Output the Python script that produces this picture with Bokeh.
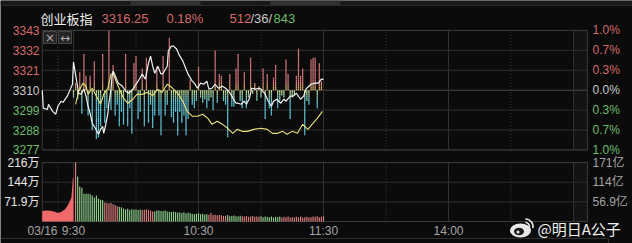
from bokeh.plotting import figure
from bokeh.models import Range1d, ColumnDataSource
from bokeh.core.properties import value
from bokeh.embed import file_html
from bokeh.resources import INLINE

# ---------------- data ----------------
index_name = "创业板指"
last_price = "3316.25"
change_pct = "0.18%"
breadth = ["512", "/36/", "843"]
trade_date = "03/16"
prev_close = 3310.3

pct_ticks = [1.0, 0.6667, 0.3333, 0.0, -0.3333, -0.6667, -1.0]
price_tick_labels = ["3343", "3332", "3321", "3310", "3299", "3288", "3277"]
pct_tick_labels = ["1.0%", "0.7%", "0.3%", "0.0%", "0.3%", "0.7%", "1.0%"]
vol_ticks = [215.7, 143.8, 71.9]
vol_tick_labels = ["216万", "144万", "71.9万"]
amount_tick_labels = ["171亿", "114亿", "56.9亿"]
time_ticks = [0, 60, 120, 180]
time_tick_labels = ["9:30", "10:30", "11:30", "14:00"]
solid_grid_minutes = [0, 60, 120, 180, 240]
dotted_grid_minutes = [-7.5, 30, 90, 150, 210]

# index line (minutes from 9:30, pre-market negative)
idx_t = [-15, -14.5, -12.5, -12, -10, -8.5, -7.5, -6, -5, -3, -1.5, -0.5,
         0, 1.5, 2.5, 3.5, 5, 6, 7, 8, 9, 10.5, 12, 13, 14, 14.5, 15.5, 16.5, 17, 18,
         18.5, 19, 20.5, 21.5, 23.5, 25, 26.5, 28.5, 30, 31, 33, 34.5, 36, 37, 38, 39,
         40.5, 41, 42, 43, 45, 45.5, 47, 48, 49.5, 50.5, 52.5, 54, 55, 57, 58, 59.5,
         61, 62.5, 64, 65, 66.5, 68, 69.5, 71.5, 73, 74.5, 76, 78, 79, 80.5, 82, 83,
         84.5, 85.5, 87.5, 89, 90, 92, 93.5, 95, 96, 97.5, 99.5, 101, 102, 104, 105.5,
         107, 109, 110.5, 111.5, 113, 114, 116, 117.5, 119, 120]
idx_price = [3310.3, 3300.3, 3299.7, 3302.5, 3298.6, 3297.0, 3301.4, 3304.2, 3303.6, 3307.0, 3310.9, 3313.6,
             3325.9, 3315.3, 3308.6, 3308.1, 3310.9, 3307.0, 3301.4, 3297.5, 3292.0, 3289.2, 3285.9, 3288.6, 3290.3, 3286.4, 3291.4, 3297.5, 3303.1, 3310.9,
             3318.1, 3320.9, 3317.0, 3314.2, 3312.5, 3309.7, 3308.6, 3310.9, 3313.6, 3315.3, 3319.2, 3316.4, 3325.3, 3329.2, 3323.6, 3319.7,
             3323.6, 3322.0, 3319.2, 3319.7, 3323.6, 3332.0, 3334.7, 3334.7, 3333.1, 3330.3, 3326.4, 3322.0, 3319.2, 3315.3, 3314.2, 3311.4,
             3314.2, 3313.6, 3315.3, 3310.9, 3311.4, 3313.6, 3311.4, 3312.5, 3311.4, 3309.7, 3307.0, 3303.1, 3303.1, 3302.5, 3304.2, 3302.5,
             3305.9, 3311.4, 3310.9, 3311.4, 3310.9, 3308.1, 3304.2, 3301.4, 3304.2, 3305.3, 3303.1, 3305.3, 3304.2, 3307.0, 3307.0,
             3308.6, 3305.3, 3307.0, 3310.9, 3312.5, 3313.6, 3314.2, 3314.2, 3316.4, 3316.25]

# unweighted (yellow) line
avg_t = [1, 2.5, 4.5, 6, 7, 9, 11.5, 13, 14.5, 16.5, 18, 19, 21, 22.5, 24, 26, 28.5, 30.5, 33, 35.5,
         38, 40.5, 42.5, 45, 46.5, 48, 50, 52.5, 54.5, 57, 59.5, 62, 64.5, 66.5, 69, 71.5, 74, 76.5,
         78.5, 81, 83.5, 86.5, 90, 93, 95.5, 98, 100.5, 102.5, 105, 107.5, 110, 112.5, 114.5, 117, 119.5]
avg_price = [3302.5, 3309.7, 3314.2, 3312.5, 3308.1, 3311.4, 3305.9, 3302.5, 3308.1, 3311.4, 3319.2, 3319.7,
             3313.6, 3309.7, 3305.9, 3303.1, 3305.3, 3308.1, 3308.0, 3309.1, 3307.4, 3310.7, 3309.1, 3313.6,
             3312.5, 3310.9, 3308.6, 3304.2, 3298.6, 3295.9, 3295.9, 3297.0, 3294.7, 3291.4, 3293.1, 3291.4,
             3289.2, 3286.4, 3288.6, 3287.5, 3287.5, 3288.6, 3289.2, 3288.6, 3286.4, 3286.4, 3287.5, 3285.9,
             3287.5, 3286.4, 3291.4, 3288.6, 3291.4, 3294.7, 3298.6]

# red / cyan strength bars, one per minute from 9:30 (index points above / below prev close)
strength = [-4, 4, -5, 10, -13, 20, 8, -14, 8, -22,
            16, -27, -26, -20, 20, -18, -10, 33, -11, 14,
            -14, -8, -20, -12, -19, 20, -20, -10, -24, 15,
            19, -16, -12, 12, -20, 18, -18, -8, -21, -14,
            13, -14, -25, 19, -14, -8, 29, -15, -18, -12,
            -25, -12, -18, -14, -25, -16, 6, -8, -10, -6,
            13, -4, -7, -5, -10, -6, -4, -11, 22, -7,
            9, 8, -6, -8, -26, 9, -9, -9, 12, 20,
            -6, -10, 10, -10, -4, 18, -2, 4, -6, 2,
            -4, 12, -16, 9, -10, -14, 7, 14, -10, -6,
            -3, -4, 17, 9, -16, -4, -3, 8, 23, 8,
            12, -25, -6, -8, 17, 18, 18, -10, 15, 5]

# volume per minute (万手), 9:31 .. 11:30
vol = [216, 165, 128, 124, 102, 102, 102, 100, 95, 88,
       95, 84, 80, 78, 70, 68, 66, 68, 63, 60,
       56, 54, 52, 48, 44, 47, 42, 45, 44, 44,
       42, 44, 42, 43, 45, 42, 40, 37, 37, 40,
       40, 38, 38, 40, 37, 36, 35, 36, 34, 33,
       33, 31, 34, 30, 32, 30, 28, 27, 28, 30,
       27, 28, 26, 27, 25, 31, 24, 25, 23, 24,
       23, 20, 21, 24, 19, 20, 22, 19, 18, 21,
       19, 18, 20, 17, 18, 20, 17, 18, 17, 19,
       16, 18, 17, 16, 18, 15, 17, 16, 18, 15,
       17, 16, 18, 15, 16, 15, 17, 16, 18, 15,
       16, 17, 15, 16, 18, 17, 19, 16, 17, 18]
vol_dir = ("rggggggggg" "ggggrrrrrr" "rggggggggg" "ggrrrrrrgg" "gggggggggg" "gggggggggg"
           "ggggrrrrrr" "rrrggggggg" "rrrrrrrrrg" "gggggggggr" "rrrrrrrrrr" "rrrrrrrrrr")

# call-auction volume (9:15-9:30)
auction_t = [-15, -13, -11, -9, -7.5, -6, -4, -2.5, -1, -0.3, 0]
auction_vol = [38, 40, 39, 36, 31, 35, 45, 62, 88, 160, 160]

# ---------------- style ----------------
BG = "#0b0b0b"
GRID = "#2f2f2f"
FRAME = "#3a3a3a"
RED_T = "#d46a6a"
GREEN_T = "#6dbb6d"
GREY_T = "#c8c8c8"
AXIS_T = "#a4a4a4"
FONT = "Liberation Sans, Noto Sans CJK SC"
CJK = "Noto Sans CJK SC"
PANEL_L, PANEL_R = -15, 246.7

p = figure(width=632, height=243, x_range=Range1d(-35.04, 268.32),
           y_range=Range1d(3225.37, 3360.0), x_axis_type=None, y_axis_type=None,
           toolbar_location=None, output_backend="svg", min_border=0,
           background_fill_color=BG, border_fill_color=BG, outline_line_color=None)
p.extra_x_ranges = {"px": Range1d(0, 632)}
p.extra_y_ranges = {"vol": Range1d(-80.54, 809.1), "py": Range1d(243, 0)}

price_ticks = [prev_close * (1 + q / 100.0) for q in pct_ticks]
p_hi, p_lo = max(price_ticks), min(price_ticks)
v_hi = max(vol_ticks)

# top strip
p.quad(left=[0], right=[632], bottom=[4.5], top=[0], fill_color="#181818", line_color=None,
       x_range_name="px", y_range_name="py")
p.quad(left=[130, 270], right=[200, 340], bottom=[4.5, 4.5], top=[0, 0], fill_color="#303030",
       line_color=None, x_range_name="px", y_range_name="py")
p.segment(x0=[0], x1=[632], y0=[5], y1=[5], line_color="#2a2a2a", x_range_name="px", y_range_name="py")
p.segment(x0=[0], x1=[608], y0=[238], y1=[238], line_color="#2e2e2e", x_range_name="px", y_range_name="py")
p.segment(x0=[608], x1=[608], y0=[238], y1=[243], line_color="#2e2e2e", x_range_name="px", y_range_name="py")

# right margin shading inside panels
p.quad(left=[240], right=[PANEL_R], bottom=[p_lo], top=[p_hi], fill_color="#131313", line_color=None)
p.quad(left=[240], right=[PANEL_R], bottom=[0], top=[v_hi], fill_color="#131313", line_color=None,
       y_range_name="vol")

# horizontal grid
h_cols = [("#4a4a4a" if q == 0 else GRID) for q in pct_ticks]
p.segment(x0=[PANEL_L] * 7, x1=[PANEL_R] * 7, y0=price_ticks, y1=price_ticks, line_color=h_cols, line_width=1)
p.segment(x0=[PANEL_L] * 3, x1=[PANEL_R] * 3, y0=vol_ticks, y1=vol_ticks, line_color=GRID,
          y_range_name="vol")
# vertical grid
n = len(solid_grid_minutes)
p.segment(x0=solid_grid_minutes, x1=solid_grid_minutes, y0=[p_lo] * n, y1=[p_hi] * n, line_color=GRID)
p.segment(x0=solid_grid_minutes, x1=solid_grid_minutes, y0=[0] * n, y1=[v_hi] * n, line_color=GRID,
          y_range_name="vol")
m = len(dotted_grid_minutes)
p.segment(x0=dotted_grid_minutes, x1=dotted_grid_minutes, y0=[p_lo] * m, y1=[p_hi] * m,
          line_color="#3a3a3a", line_dash="1 2")
p.segment(x0=dotted_grid_minutes, x1=dotted_grid_minutes, y0=[0] * m, y1=[v_hi] * m,
          line_color="#3a3a3a", line_dash="1 2", y_range_name="vol")
# frames
p.quad(left=[PANEL_L], right=[PANEL_R], bottom=[p_lo], top=[p_hi], fill_color=None, line_color=FRAME)
p.quad(left=[PANEL_L], right=[PANEL_R], bottom=[0], top=[v_hi], fill_color=None, line_color=FRAME,
       y_range_name="vol")


# strength bars with a vertical colour fade
def mix(c1, c2, t):
    a = [int(c1[i:i + 2], 16) for i in (1, 3, 5)]
    b = [int(c2[i:i + 2], 16) for i in (1, 3, 5)]
    return "#%02x%02x%02x" % tuple(int(round(a[k] + (b[k] - a[k]) * t)) for k in range(3))


UP_LO, UP_HI = "#e2c06c", "#d7767c"
DN_LO, DN_HI = "#cde08c", "#62c6da"
seg = dict(left=[], right=[], bottom=[], top=[], color=[])
half = 0.3
for i, s in enumerate(strength):
    mag = abs(s)
    k = 0.0
    while k < mag:
        hi = min(k + 1.0, mag)
        mid = (k + hi) / 2.0
        if s > 0:
            c = mix(UP_LO, UP_HI, min(mid / 5.0, 1.0))
            b, t = prev_close + k, prev_close + hi
        else:
            c = mix(DN_LO, DN_HI, min(mid / 6.5, 1.0))
            b, t = prev_close - hi, prev_close - k
        seg["left"].append(i - half)
        seg["right"].append(i + half)
        seg["bottom"].append(b)
        seg["top"].append(t)
        seg["color"].append(c)
        k = hi
p.quad(left="left", right="right", bottom="bottom", top="top", fill_color="color",
       line_color=None, source=ColumnDataSource(seg))

# lines
p.line(avg_t, avg_price, line_color="#e8e27c", line_width=1.1)
p.line(idx_t, idx_price, line_color="#f2f2f2", line_width=1.2)

# volume
p.varea(x=auction_t, y1=[0] * len(auction_t), y2=auction_vol, fill_color="#f06a6a",
        y_range_name="vol")
vol_t = list(range(1, len(vol) + 1))
vol_col = [("#e07e7e" if d == "r" else "#8fd08f") for d in vol_dir]
p.vbar(x=vol_t, width=0.55, bottom=0, top=vol, fill_color=vol_col, line_color=None,
       y_range_name="vol")


def txt(x, y, texts, colors, size, align="left", xr="default", yr="default", font=FONT):
    src = ColumnDataSource(dict(x=x, y=y, text=texts, color=colors))
    p.text(x="x", y="y", text="text", text_color="color", source=src,
           text_font=value(font), text_font_size=value(size), text_align=align,
           text_baseline="middle", x_range_name=xr, y_range_name=yr)


# price tick labels
lcol = [RED_T if q > 0 else (GREY_T if q == 0 else GREEN_T) for q in pct_ticks]
txt([39] * 7, price_ticks, price_tick_labels, lcol, "12px", "right", xr="px")
txt([592] * 7, price_ticks, pct_tick_labels, lcol, "12px", "left", xr="px")
# volume tick labels
txt([39] * 3, vol_ticks, vol_tick_labels, ["#e6e6e6"] * 3, "12px", "right", xr="px", yr="vol")
txt([592] * 3, vol_ticks, amount_tick_labels, [AXIS_T] * 3, "12px", "left", xr="px", yr="vol")
# time labels
txt(time_ticks, [230.5] * 4, time_tick_labels, [AXIS_T] * 4, "12px", "center", yr="py")
txt([27], [230.5], [trade_date], [AXIS_T], "12px", "left", xr="px", yr="py")

# header
txt([40], [18], [index_name], ["#f0f0f0"], "13px", "left", xr="px", yr="py", font=CJK)
txt([101], [18], [last_price], [RED_T], "13px", "left", xr="px", yr="py")
txt([166], [18], [change_pct], [RED_T], "13px", "left", xr="px", yr="py")
txt([229, 250, 273], [18] * 3, breadth, [RED_T, GREY_T, GREEN_T], "13px", "left", xr="px", yr="py")

# small buttons
p.quad(left=[43, 58], right=[56, 71], top=[31, 31], bottom=[43, 43], fill_color="#262626",
       line_color="#444444", x_range_name="px", y_range_name="py")
txt([49.5, 64.5], [37, 37], ["×", "↔"], ["#b0b0b0", "#b0b0b0"], "12px", "center", xr="px", yr="py",
    font="DejaVu Sans")

# watermark
p.ellipse(x=[520], y=[230], width=[21], height=[14], fill_color="#e8e8e8", line_color=None,
          x_range_name="px", y_range_name="py")
p.ellipse(x=[518.5], y=[231], width=[10], height=[7.5], fill_color="#1a1a1a", line_color=None,
          x_range_name="px", y_range_name="py")
p.ellipse(x=[517.5], y=[231.5], width=[3], height=[3], fill_color="#e8e8e8", line_color=None,
          x_range_name="px", y_range_name="py")
p.arc(x=[525, 525], y=[226, 226], radius=[4, 7.5], start_angle=[-0.2, -0.2], end_angle=[1.6, 1.6],
      line_color="#e8e8e8", line_width=1.6, x_range_name="px", y_range_name="py")
txt([537], [228], ["@明日A公子"], ["#f0f0f0"], "15px", "left", xr="px", yr="py", font=CJK)

open("out.html", "w").write(file_html(p, INLINE))
